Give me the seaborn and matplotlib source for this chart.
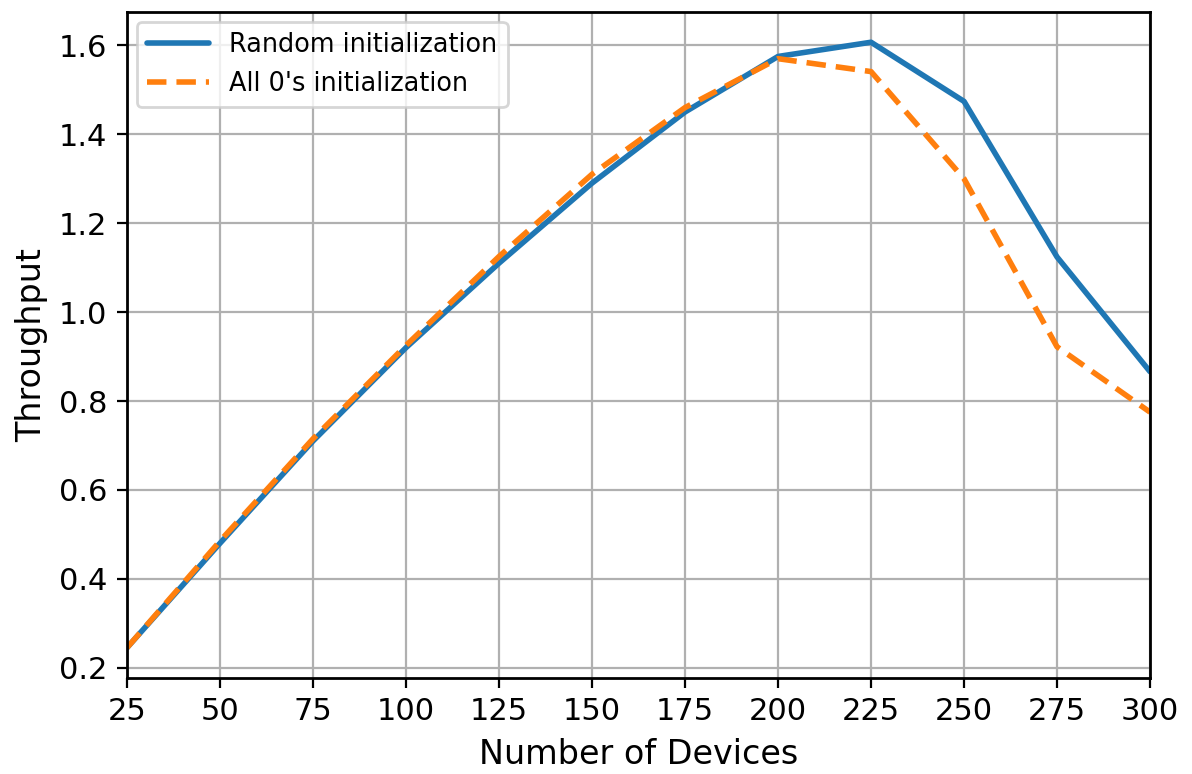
import seaborn as sns
import matplotlib.pyplot as plt
import pandas as pd

devices = [25, 50, 75, 100, 125, 150, 175, 200, 225, 250, 275, 300]
random_init = [0.245, 0.48, 0.71, 0.92, 1.11, 1.29, 1.45, 1.575, 1.607, 1.474, 1.124, 0.866]
zeros_init = [0.245, 0.485, 0.715, 0.925, 1.125, 1.31, 1.46, 1.57, 1.541, 1.30, 0.922, 0.775]
labels = ["Random initialization", "All 0's initialization"]

df = pd.DataFrame({
    "Number of Devices": devices * 2,
    "Throughput": random_init + zeros_init,
    "series": [labels[0]] * len(devices) + [labels[1]] * len(devices),
})

sns.set_style("ticks")
plt.rcParams['font.family'] = ['DejaVu Sans']
plt.rcParams['text.color'] = 'black'
plt.rcParams['axes.labelcolor'] = 'black'

fig, ax = plt.subplots(figsize=(5.96, 3.87), dpi=200)
fig.subplots_adjust(left=0.1065, right=0.9648, top=0.9845, bottom=0.124)

sns.lineplot(data=df, x="Number of Devices", y="Throughput", hue="series", style="series",
             palette=["#1f77b4", "#ff7f0e"], dashes=[(None, None), (3.5, 1.8)],
             linewidth=2, ax=ax)

ax.set_xlim(25, 300)
ax.set_xticks(devices)
ax.set_ylim(0.177, 1.675)
ax.grid(True, color="#b0b0b0", linewidth=0.8)
for s in ax.spines.values():
    s.set_linewidth(1.0)
    s.set_color("black")
ax.tick_params(labelsize=11, colors="black", length=3.5)
ax.set_xlabel("Number of Devices", fontsize=12)
ax.set_ylabel("Throughput", fontsize=12)
ax.legend(loc="upper left", fontsize=9.2, title=None, handlelength=2.4,
          borderaxespad=0.4)

fig.savefig("out.png", dpi=200)
